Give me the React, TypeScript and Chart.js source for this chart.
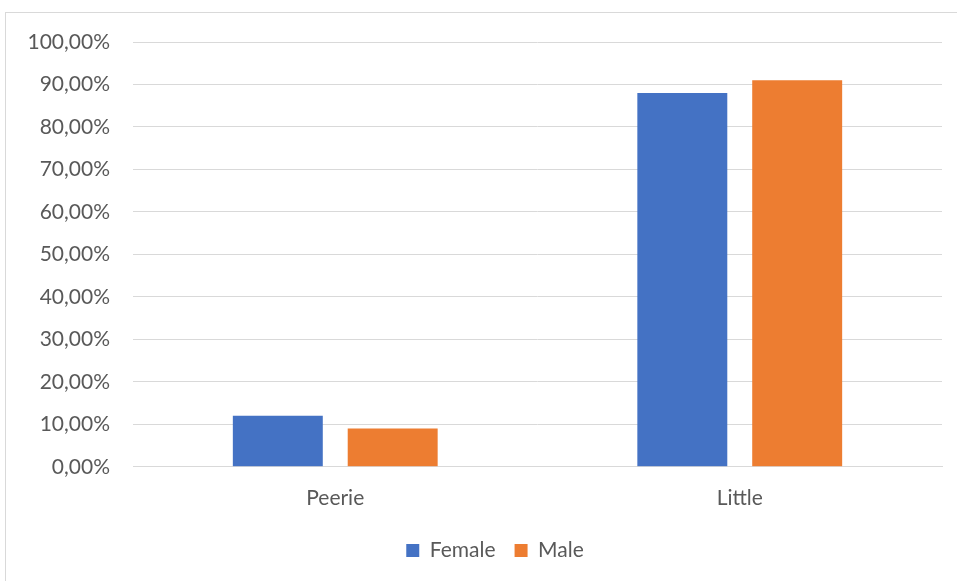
import React, { useEffect, useRef } from "react";
import { Chart, registerables } from "chart.js";

Chart.register(...registerables);

const categories = ["Peerie", "Little"];
const femaleValues = [12, 88];
const maleValues = [9, 91];
const seriesNames = ["Female", "Male"];
const seriesColors = ["#4472C4", "#ED7D31"];

const textColor = "#595959";
const gridColor = "#D9D9D9";
const fontFamily = "Lato, 'Open Sans', sans-serif";
const fontSize = 21;

const formatPercent = (v: number) => v.toFixed(2).replace(".", ",") + "%";

// Nudges the legend after layout so it sits centred under the plot.
const legendShift = {
  id: "legendShift",
  afterLayout(chart: any) {
    const legend = chart.legend;
    if (!legend) return;
    legend.left += 24;
    legend.right += 24;
    legend.top -= 9;
    legend.bottom -= 9;
  },
};

export default function App() {
  const canvasRef = useRef<HTMLCanvasElement | null>(null);

  useEffect(() => {
    document.body.style.margin = "0";
    const canvas = canvasRef.current;
    if (!canvas) return;
    const chart = new Chart(canvas, {
      type: "bar",
      data: {
        labels: categories,
        datasets: [
          {
            label: seriesNames[0],
            data: femaleValues,
            backgroundColor: seriesColors[0],
            categoryPercentage: 0.568,
            barPercentage: 0.783,
          },
          {
            label: seriesNames[1],
            data: maleValues,
            backgroundColor: seriesColors[1],
            categoryPercentage: 0.568,
            barPercentage: 0.783,
          },
        ],
      },
      options: {
        animation: false,
        responsive: false,
        maintainAspectRatio: false,
        layout: { padding: { left: 0, top: 42, right: 15, bottom: 1 } },
        plugins: {
          tooltip: { enabled: false },
          legend: {
            position: "bottom",
            labels: {
              color: textColor,
              boxWidth: 13,
              boxHeight: 13,
              padding: 19,
              font: { family: fontFamily, size: fontSize },
            },
          },
        },
        scales: {
          x: {
            grid: { display: false, drawTicks: false },
            border: { display: true, color: gridColor, width: 1 },
            ticks: {
              color: textColor,
              padding: 19,
              font: { family: fontFamily, size: fontSize },
            },
          },
          y: {
            min: 0,
            max: 100,
            afterFit: (scale: any) => {
              scale.width = 133;
            },
            grid: { color: gridColor, lineWidth: 1, drawTicks: false },
            border: { display: false },
            ticks: {
              stepSize: 10,
              color: textColor,
              padding: 23,
              font: { family: fontFamily, size: fontSize },
              callback: (v: any) => formatPercent(Number(v)),
            },
          },
        },
      },
      plugins: [legendShift],
    });
    return () => chart.destroy();
  }, []);

  return (
    <div style={{ position: "relative", width: 957, height: 581, overflow: "hidden", background: "#fff" }}>
      <div
        style={{
          position: "absolute",
          left: 5,
          top: 12,
          width: 960,
          height: 600,
          border: `1px solid ${gridColor}`,
          boxSizing: "border-box",
        }}
      />
      <canvas ref={canvasRef} width={957} height={581} style={{ position: "absolute", left: 0, top: 0 }} />
    </div>
  );
}
